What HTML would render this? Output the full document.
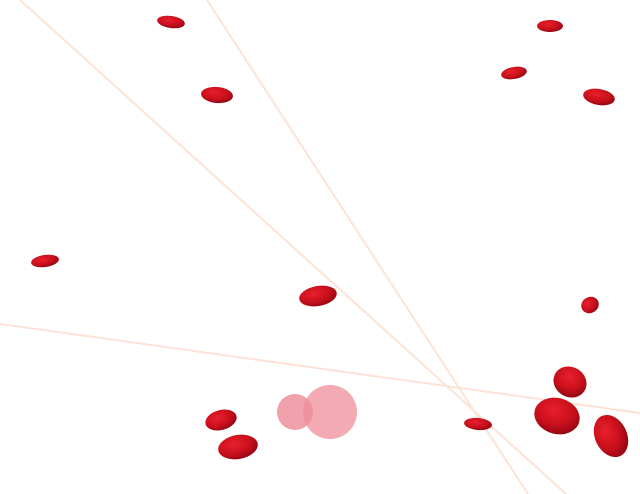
<!DOCTYPE html>
<html><head><meta charset="utf-8"><style>html,body{margin:0;padding:0;background:#fff}svg{display:block}</style></head>
<body>
<svg width="640" height="494" viewBox="0 0 640 494" xmlns="http://www.w3.org/2000/svg">
<defs>
<radialGradient id="pg" cx="40%" cy="35%" r="70%">
<stop offset="0" stop-color="#e8202c"/><stop offset="0.6" stop-color="#c80f1c"/><stop offset="1" stop-color="#8e0612"/>
</radialGradient>
</defs>
<g stroke="#fde3d6" stroke-width="2" fill="none">
<line x1="20" y1="0" x2="566" y2="494"/>
<line x1="207" y1="0" x2="528" y2="494"/>
<line x1="0" y1="324" x2="640" y2="413"/>
</g>
<g>
<circle cx="295" cy="412" r="18" fill="#ee8a96" opacity="0.8"/>
<circle cx="330" cy="412" r="27" fill="#ef8d99" opacity="0.75"/>
</g>
<g fill="url(#pg)">
<ellipse cx="171" cy="22" rx="14" ry="6" transform="rotate(8 171 22)"/>
<ellipse cx="217" cy="95" rx="16" ry="8" transform="rotate(5 217 95)"/>
<ellipse cx="45" cy="261" rx="14" ry="6" transform="rotate(-8 45 261)"/>
<ellipse cx="318" cy="296" rx="19" ry="10" transform="rotate(-10 318 296)"/>
<ellipse cx="550" cy="26" rx="13" ry="6"/>
<ellipse cx="514" cy="73" rx="13" ry="6" transform="rotate(-10 514 73)"/>
<ellipse cx="599" cy="97" rx="16" ry="8" transform="rotate(10 599 97)"/>
<ellipse cx="590" cy="305" rx="9" ry="8" transform="rotate(-30 590 305)"/>
<ellipse cx="221" cy="420" rx="16" ry="10" transform="rotate(-15 221 420)"/>
<ellipse cx="238" cy="447" rx="20" ry="12" transform="rotate(-10 238 447)"/>
<ellipse cx="478" cy="424" rx="14" ry="6" transform="rotate(5 478 424)"/>
<ellipse cx="570" cy="382" rx="17" ry="15" transform="rotate(30 570 382)"/>
<ellipse cx="557" cy="416" rx="23" ry="18" transform="rotate(15 557 416)"/>
<ellipse cx="611" cy="436" rx="16" ry="22" transform="rotate(-25 611 436)"/>
</g>
</svg>
</body></html>
